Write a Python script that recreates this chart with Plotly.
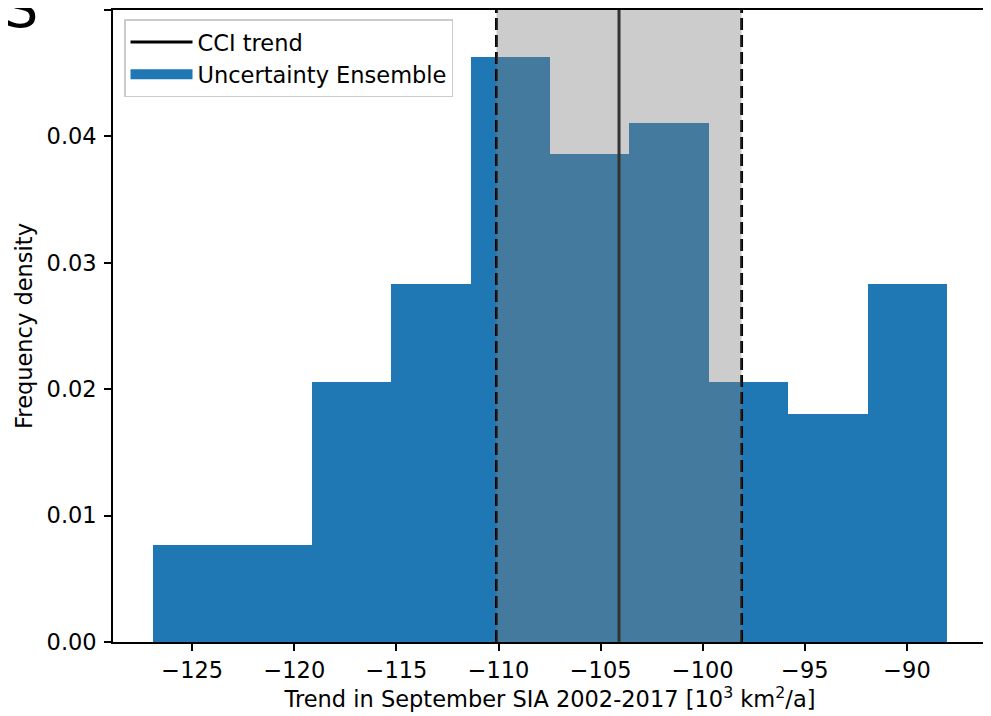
import plotly.graph_objects as go

# Data
bin_edges = [-126.93, -123.04, -119.15, -115.26, -111.37, -107.48,
             -103.59, -99.70, -95.81, -91.92, -88.03]
densities = [0.0077, 0.0077, 0.0206, 0.0283, 0.0463, 0.0386,
             0.0411, 0.0206, 0.0180, 0.0283]
cci_trend = -104.1
cci_low = -110.1
cci_high = -98.1
x_ticks = [-125, -120, -115, -110, -105, -100, -95, -90]
y_ticks = [0.00, 0.01, 0.02, 0.03, 0.04, 0.05]

centers = [(a + b) / 2 for a, b in zip(bin_edges[:-1], bin_edges[1:])]
widths = [b - a for a, b in zip(bin_edges[:-1], bin_edges[1:])]

FONT = "DejaVu Sans"
FS = 22.5
BLUE = "#1f77b4"

fig = go.Figure()

fig.add_trace(go.Bar(
    x=centers, y=densities, width=widths,
    marker=dict(color=BLUE, line=dict(width=0)),
    name="Uncertainty Ensemble", showlegend=False,
))

fig.add_trace(go.Scatter(
    x=[cci_trend, cci_trend], y=[0, 0.05], mode="lines",
    line=dict(color="black", width=3), name="CCI trend",
    legendgroup="a",
))
# legend entry for the histogram (patch-like)
fig.add_trace(go.Scatter(
    x=[None], y=[None], mode="lines",
    line=dict(color=BLUE, width=15), name="Uncertainty Ensemble",
    legendgroup="b",
))

for xv in (cci_low, cci_high):
    fig.add_shape(type="line", x0=xv, x1=xv, y0=0, y1=1,
                  xref="x", yref="y domain", layer="above",
                  line=dict(color="black", width=3, dash="12px,5px"))

fig.add_shape(type="rect", x0=cci_low, x1=cci_high, y0=0, y1=1,
              xref="x", yref="y domain", layer="above",
              fillcolor="rgba(128,128,128,0.4)", line=dict(width=0))

fig.add_annotation(text="IS", xref="paper", yref="paper",
                   x=-0.0835, y=1.0, xanchor="right", yanchor="bottom",
                   yshift=-32,
                   showarrow=False, font=dict(family=FONT, size=54, color="black"))

fig.update_layout(
    width=983, height=708,
    margin=dict(l=105, r=4, t=2, b=74, autoexpand=False),
    paper_bgcolor="white", plot_bgcolor="white",
    font=dict(family=FONT, size=FS, color="black"),
    bargap=0,
    legend=dict(
        x=0.0126, y=0.985, xanchor="left", yanchor="top",
        bgcolor="white", bordercolor="#cccccc", borderwidth=1.5,
        font=dict(family=FONT, size=FS), tracegroupgap=0,
        itemwidth=62,
    ),
    xaxis=dict(
        range=[-128.88, -86.08], tickvals=x_ticks, automargin=False,
        showline=True, linecolor="black", linewidth=1.6, mirror=True,
        ticks="outside", ticklen=7, tickwidth=1.6, tickcolor="black",
        showgrid=False, zeroline=False,
        title=dict(text="Trend in September SIA 2002-2017 [10<sup>3</sup> km<sup>2</sup>/a]",
                   font=dict(family=FONT, size=FS), standoff=4),
    ),
    yaxis=dict(
        range=[0, 0.05], tickvals=y_ticks, tickformat=".2f", automargin=False,
        showline=True, linecolor="black", linewidth=1.6, mirror=True,
        ticks="outside", ticklen=7, tickwidth=1.6, tickcolor="black",
        showgrid=False, zeroline=False, ticklabelstandoff=3,
        title=dict(text="Frequency density", font=dict(family=FONT, size=FS), standoff=8),
    ),
)

fig.write_html("out.html")
